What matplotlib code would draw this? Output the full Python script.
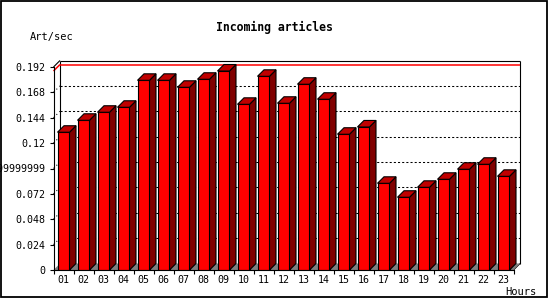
import matplotlib
matplotlib.use("Agg")
import matplotlib.pyplot as plt
from matplotlib.patches import Polygon, Rectangle
import numpy as np

# ---------------- data ----------------
hours = ["01", "02", "03", "04", "05", "06", "07", "08", "09", "10", "11", "12",
         "13", "14", "15", "16", "17", "18", "19", "20", "21", "22", "23"]
rate = [0.1303, 0.1416, 0.1492, 0.1539, 0.1794, 0.1794, 0.1728, 0.1804, 0.1882,
        0.1567, 0.1832, 0.1577, 0.1757, 0.1615, 0.1284, 0.1353, 0.0820, 0.0688,
        0.0782, 0.0858, 0.0953, 0.1000, 0.0886]
ytick_vals = [0, 0.024, 0.048, 0.072, 0.096, 0.12, 0.144, 0.168, 0.192]
ytick_labels = ["0", "0.024", "0.048", "0.072", "0.09599999999999999",
                "0.12", "0.144", "0.168", "0.192"]
title = "Incoming articles"
ylabel = "Art/sec"
xlabel = "Hours"

# ---------------- styles ----------------
W, H = 550, 300
FRONT = "#ff0000"
SIDE = "#800000"
TOP = "#c00000"
FLOOR = "#808080"
MONO = ["DejaVu Sans Mono"]
FS = 7.2
LW = 0.8

fig = plt.figure(figsize=(W / 100, H / 100), dpi=100)
fig.patch.set_facecolor("white")

ax = fig.add_axes([53.5 / W, 30 / H, 460 / W, 203 / H])
n = len(hours)
x0, x1 = -0.5, n - 0.5
ymax = ytick_vals[-1]
ax.set_xlim(x0, x1)
ax.set_ylim(0, ymax)
ax.patch.set_visible(False)
for s in ["top", "right"]:
    ax.spines[s].set_visible(False)
for s in ["left", "bottom"]:
    ax.spines[s].set_linewidth(LW)
    ax.spines[s].set_zorder(6)

# depth offsets (pixels -> data)
DX = 6.5 * (x1 - x0) / 460
DY = 6.5 * ymax / 203

lk = dict(clip_on=False, solid_capstyle="butt")
# back plane frame
ax.plot([x0 + DX, x1 + DX], [ymax + DY, ymax + DY], color="black", lw=LW, zorder=1, **lk)
ax.plot([x0, x0 + DX], [ymax, ymax + DY], color="black", lw=LW, zorder=1, **lk)
ax.plot([x0 + DX, x0 + DX], [DY, ymax + DY], color="black", lw=LW, zorder=1, **lk)
ax.plot([x1 + DX, x1 + DX], [DY, ymax + DY], color="black", lw=LW, zorder=1, **lk)
ax.plot([x1, x1 + DX], [0, DY], color="black", lw=LW, zorder=1, **lk)

# dotted grid on back plane and left wall
for v in ytick_vals[1:-1]:
    ax.plot([x0 + DX, x1 + DX], [v + DY, v + DY], color="black", lw=0.75,
            linestyle=(0, (2, 2)), zorder=1, clip_on=False)
    ax.plot([x0, x0 + DX], [v, v + DY], color="black", lw=0.75,
            linestyle=(0, (1, 3)), zorder=1, clip_on=False)

# red max line
m = max(rate)
ax.plot([x0 + DX, x1 + DX], [m + DY, m + DY], color="red", lw=1.1, zorder=1.2, **lk)
ax.plot([x0, x0 + DX], [m, m + DY], color="red", lw=1.1, zorder=1.2, **lk)

# floor
ax.add_patch(Polygon([(x0, 0), (x1, 0), (x1 + DX, DY), (x0 + DX, DY)],
                     closed=True, facecolor=FLOOR, edgecolor="none",
                     zorder=1.5, clip_on=False))

# bars
bw = 0.6
xs = np.arange(n)
ax.bar(xs, rate, width=bw, color=FRONT, edgecolor="black", linewidth=LW, zorder=3)
for i, v in zip(xs, rate):
    r = i + bw / 2
    l = i - bw / 2
    ax.add_patch(Polygon([(r, 0), (r + DX, DY), (r + DX, v + DY), (r, v)],
                         closed=True, facecolor=SIDE, edgecolor="black",
                         linewidth=LW, zorder=3, clip_on=False))
    ax.add_patch(Polygon([(l, v), (r, v), (r + DX, v + DY), (l + DX, v + DY)],
                         closed=True, facecolor=TOP, edgecolor="black",
                         linewidth=LW, zorder=3, clip_on=False))

# ticks
ax.set_xticks(np.arange(x0, x1 + 0.01, 1.0))
ax.set_xticklabels([])
ax.set_xticks(xs, minor=True)
ax.set_xticklabels(hours, minor=True, fontsize=FS, family=MONO)
ax.tick_params(axis="x", which="major", direction="out", length=2.6, width=LW)
ax.tick_params(axis="x", which="minor", length=0, pad=3.6)
ax.set_yticks(ytick_vals)
ax.set_yticklabels(ytick_labels, fontsize=FS, family=MONO)
ax.tick_params(axis="y", direction="out", length=3.2, width=LW, pad=2.8)

# texts
fig.text(274 / W, 1 - 27 / H, title, ha="center", va="center",
         fontsize=8.3, fontweight="bold", family=MONO)
fig.text(30 / W, 1 - 37 / H, ylabel, ha="left", va="center", fontsize=7.5, family=MONO)
fig.text(505 / W, 1 - 292 / H, xlabel, ha="left", va="center", fontsize=7.5, family=MONO)

# outer frame
fig.patches.append(Rectangle((0.75 / W, 3 / H), 546.5 / W, 296.5 / H,
                             transform=fig.transFigure, fill=False,
                             edgecolor="black", linewidth=1.3, zorder=10))

fig.savefig("out.png", dpi=100)
